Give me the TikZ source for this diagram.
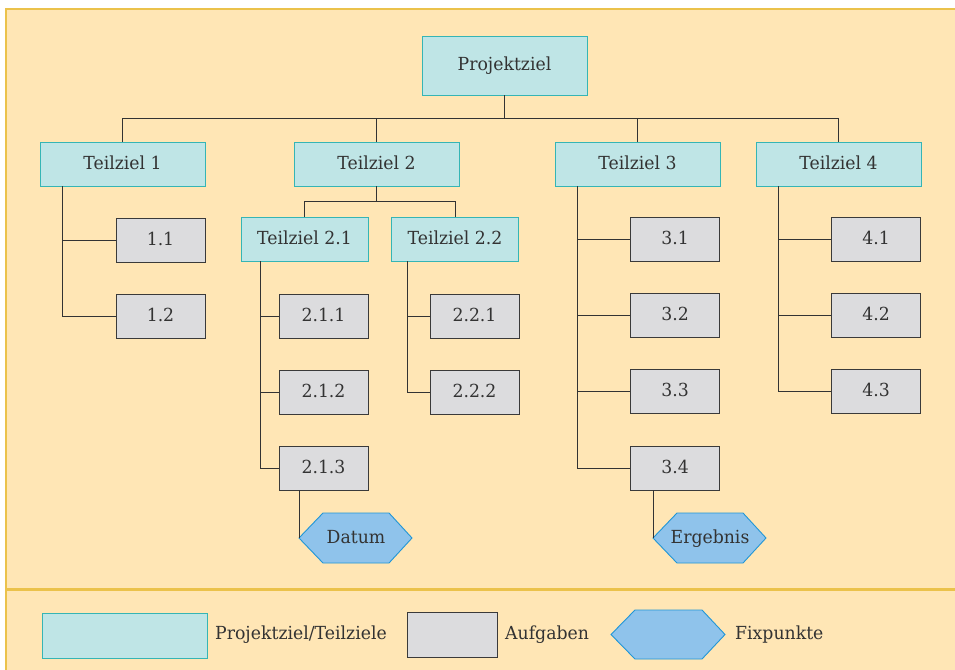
\documentclass[tikz,border=0pt]{standalone}
\usepackage{fontspec}
\setmainfont{DejaVu Serif}[FakeStretch=0.96]
\usetikzlibrary{calc}
\definecolor{cBg}{HTML}{FFE6B5}
\definecolor{cFrame}{HTML}{EBC24B}
\definecolor{cGoalFill}{HTML}{BFE5E6}
\definecolor{cGoalDraw}{HTML}{35B5B5}
\definecolor{cTaskFill}{HTML}{DCDCDE}
\definecolor{cTaskDraw}{HTML}{3A3A3A}
\definecolor{cFixFill}{HTML}{8FC3EB}
\definecolor{cFixDraw}{HTML}{2196D6}
\definecolor{cText}{HTML}{333333}
\definecolor{cConn}{HTML}{333333}
\tikzset{
  lbltext/.style={font=\fontsize{18}{21}\selectfont, text=cText, inner sep=0pt, text height=13pt, text depth=3pt},
  goalbox/.style={lbltext, draw=cGoalDraw, fill=cGoalFill, line width=0.9pt, minimum width=165pt, minimum height=44pt},
  taskbox/.style={lbltext, draw=cTaskDraw, fill=cTaskFill, line width=0.9pt, minimum width=89pt, minimum height=44pt},
  subbox/.style={goalbox, minimum width=127pt},
  conline/.style={draw=cConn, line width=0.9pt},
  fixshape/.style={draw=cFixDraw, fill=cFixFill, line width=0.9pt}
}
\begin{document}
\begin{tikzpicture}[x=1pt,y=-1pt]
\useasboundingbox (0,0) rectangle (955,669);
% background frame
\fill[cBg] (6,9) rectangle (960,675);
\draw[draw=cFrame, line width=2.6pt] (6,675) -- (6,9) -- (960,9);
\draw[draw=cFrame, line width=2.2pt] (6,589.5) -- (960,589.5);

% goals
\node[goalbox, minimum height=59pt] (pz) at (504.5,65.5) {Projektziel};
\node[goalbox] (t1) at (122.5,164) {Teilziel 1};
\node[goalbox] (t2) at (376.5,164) {Teilziel 2};
\node[goalbox] (t3) at (637.5,164) {Teilziel 3};
\node[goalbox] (t4) at (838.5,164) {Teilziel 4};
\node[subbox] (t21) at (304.5,239) {Teilziel 2.1};
\node[subbox] (t22) at (455,239) {Teilziel 2.2};

% tasks
\node[taskbox] (a11) at (160.5,240) {1.1};
\node[taskbox] (a12) at (160.5,316) {1.2};
\node[taskbox] (a211) at (323.5,316) {2.1.1};
\node[taskbox] (a212) at (323.5,392) {2.1.2};
\node[taskbox] (a213) at (323.5,468) {2.1.3};
\node[taskbox] (a221) at (474.5,316) {2.2.1};
\node[taskbox] (a222) at (474.5,392) {2.2.2};
\node[taskbox] (a31) at (675,239) {3.1};
\node[taskbox] (a32) at (675,315.5) {3.2};
\node[taskbox] (a33) at (675,391) {3.3};
\node[taskbox] (a34) at (675,468) {3.4};
\node[taskbox] (a41) at (876,239) {4.1};
\node[taskbox] (a42) at (876,315.5) {4.2};
\node[taskbox] (a43) at (876,391) {4.3};

% fixpoints
\coordinate (dw) at (299,538);
\draw[fixshape] (dw) -- ++(24,-25) -- ++(66,0) -- ++(23,25) -- ++(-23,25) -- ++(-66,0) -- cycle;
\node[lbltext] (datum) at (356,538) {Datum};
\coordinate (ew) at (653,538);
\draw[fixshape] (ew) -- ++(24,-25) -- ++(66,0) -- ++(23,25) -- ++(-23,25) -- ++(-66,0) -- cycle;
\node[lbltext] (ergebnis) at (710,538) {Ergebnis};

% top-level connectors
\coordinate (bus) at (0,118);
\draw[conline] (pz.south) -- (pz.south |- bus);
\draw[conline] (t1.north) -- (t1.north |- bus) -- (t4.north |- bus) -- (t4.north);
\draw[conline] (t2.north) -- (t2.north |- bus);
\draw[conline] (t3.north) -- (t3.north |- bus);

% Teilziel 1
\coordinate (v1) at (62,0);
\draw[conline] (t1.south -| v1) -- (v1 |- a12.west) -- (a12.west);
\draw[conline] (v1 |- a11.west) -- (a11.west);

% Teilziel 2
\coordinate (bus2) at (0,201);
\draw[conline] (t2.south) -- (t2.south |- bus2);
\draw[conline] (t21.north) -- (t21.north |- bus2) -- (t22.north |- bus2) -- (t22.north);

\coordinate (v21) at (260,0);
\draw[conline] (t21.south -| v21) -- (v21 |- a213.west) -- (a213.west);
\draw[conline] (v21 |- a211.west) -- (a211.west);
\draw[conline] (v21 |- a212.west) -- (a212.west);

\coordinate (v22) at (407,0);
\draw[conline] (t22.south -| v22) -- (v22 |- a222.west) -- (a222.west);
\draw[conline] (v22 |- a221.west) -- (a221.west);

% Teilziel 3
\coordinate (v3) at (577,0);
\draw[conline] (t3.south -| v3) -- (v3 |- a34.west) -- (a34.west);
\draw[conline] (v3 |- a31.west) -- (a31.west);
\draw[conline] (v3 |- a32.west) -- (a32.west);
\draw[conline] (v3 |- a33.west) -- (a33.west);

% Teilziel 4
\coordinate (v4) at (778,0);
\draw[conline] (t4.south -| v4) -- (v4 |- a43.west) -- (a43.west);
\draw[conline] (v4 |- a41.west) -- (a41.west);
\draw[conline] (v4 |- a42.west) -- (a42.west);

% fixpoint connectors
\draw[conline] (a213.south -| dw) -- (dw);
\draw[conline] (a34.south -| ew) -- (ew);

% legend
\node[goalbox, minimum width=165pt, minimum height=45pt] (lg) at (124.5,635.5) {};
\node[lbltext, anchor=west] (lgt) at (215,634) {Projektziel/Teilziele};
\node[taskbox, minimum width=90pt, minimum height=45pt] (la) at (452,634.5) {};
\node[lbltext, anchor=west] (lat) at (505,634) {Aufgaben};
\coordinate (lfw) at (611,634.5);
\draw[fixshape] (lfw) -- ++(24,-24.5) -- ++(67,0) -- ++(23,24.5) -- ++(-23,24.5) -- ++(-67,0) -- cycle;
\node[lbltext, anchor=west] (lft) at (735,634) {Fixpunkte};
\end{tikzpicture}
\end{document}
